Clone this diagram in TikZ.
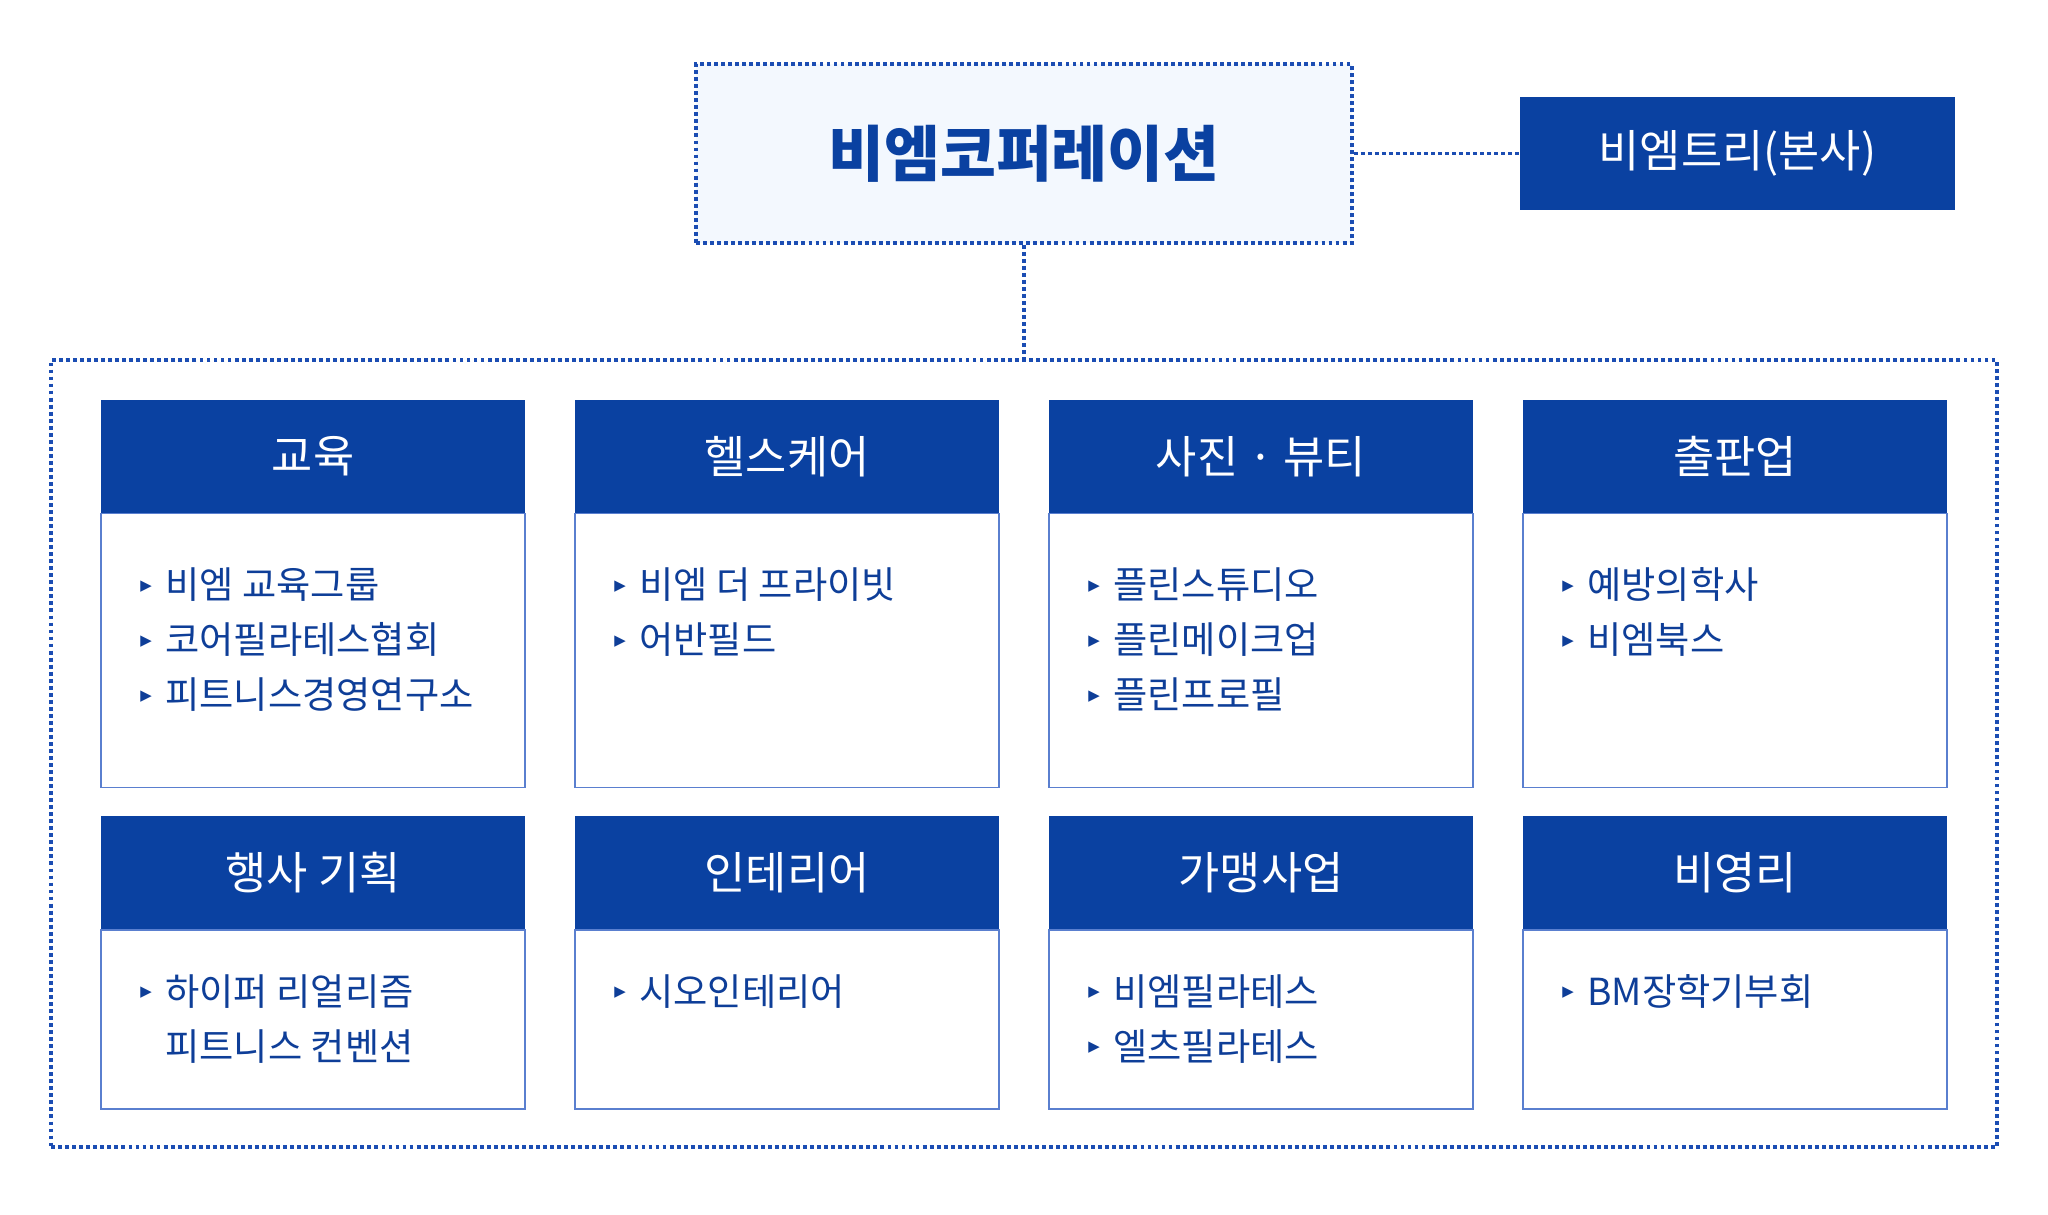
\documentclass[tikz,border=0pt]{standalone}
\usepackage{fontspec}
\setmainfont{Noto Sans CJK KR}
\newfontfamily\symfont{DejaVu Sans}
\usepackage{tikz}
\usetikzlibrary{positioning}
\definecolor{brand}{HTML}{0A41A1}
\definecolor{ink}{HTML}{0E3E98}
\definecolor{frame}{HTML}{5A7FCF}
\definecolor{dots}{HTML}{1B4DB3}
\definecolor{pale}{HTML}{F3F8FE}
\newcommand{\bul}{\rule{0pt}{22pt}\makebox[14.2pt][l]{\raisebox{4.9pt}{\symfont\fontsize{8.5}{8.5}\selectfont ▶}}}
\newcommand{\cont}{\hspace*{14.2pt}}

\begin{document}
\begin{tikzpicture}[x=0.02cm, y=-0.02cm,
  link/.style={draw=dots, line width=2pt, dash pattern=on 2.2pt off 1.8pt},
  hd/.style={fill=brand, minimum width=8.48cm, minimum height=2.28cm,
             inner sep=0pt, outer sep=0pt, text=white,
             font=\fontsize{25.5}{30}\selectfont},
  bx/.style={draw=frame, line width=0.9pt, fill=white, minimum width=8.48cm,
             inner sep=0pt, outer sep=0pt},
  lst/.style={anchor=north west, align=left, inner sep=0pt, text=ink,
              font=\fontsize{21.2}{31.3}\selectfont}
]
  \useasboundingbox (0,0) rectangle (2048,1214);

  % top level
  \node[link, fill=pale, minimum width=13.12cm, minimum height=3.58cm,
        text=brand, font=\fontsize{34.6}{40}\selectfont\bfseries]
        (corp) at (1024,153.5) {비엠코퍼레이션};
  \node[fill=brand, minimum width=8.7cm, minimum height=2.28cm, text=white,
        font=\fontsize{25.5}{30}\selectfont]
        (hq) at (1737.5,153.5) {비엠트리(본사)};
  \node[link, minimum width=38.92cm, minimum height=15.74cm]
        (grp) at (1024,753.5) {};

  \draw[link] (corp.east)  -- (hq.west);
  \draw[link] (corp.south) -- (grp.north);

  % first row
  \node[hd] (h1) at (313,456.5)  {교육};
  \node[hd] (h2) at (787,456.5)  {헬스케어};
  \node[hd] (h3) at (1261,456.5) {사진 · 뷰티};
  \node[hd] (h4) at (1735,456.5) {출판업};

  \node[bx, minimum height=5.48cm, below=0pt of h1] (b1) {};
  \node[bx, minimum height=5.48cm, below=0pt of h2] (b2) {};
  \node[bx, minimum height=5.48cm, below=0pt of h3] (b3) {};
  \node[bx, minimum height=5.48cm, below=0pt of h4] (b4) {};

  \node[lst] (l1) at ([shift={(39,46.3)}]b1.north west)
        {\bul 비엠 교육그룹\\ \bul 코어필라테스협회\\ \bul 피트니스경영연구소};
  \node[lst] (l2) at ([shift={(39,46.3)}]b2.north west)
        {\bul 비엠 더 프라이빗\\ \bul 어반필드};
  \node[lst] (l3) at ([shift={(39,46.3)}]b3.north west)
        {\bul 플린스튜디오\\ \bul 플린메이크업\\ \bul 플린프로필};
  \node[lst] (l4) at ([shift={(39,46.3)}]b4.north west)
        {\bul 예방의학사\\ \bul 비엠북스};

  % second row
  \node[hd] (h5) at (313,873)  {행사 기획};
  \node[hd] (h6) at (787,873)  {인테리어};
  \node[hd] (h7) at (1261,873) {가맹사업};
  \node[hd] (h8) at (1735,873) {비영리};

  \node[bx, minimum height=3.58cm, below=0pt of h5] (b5) {};
  \node[bx, minimum height=3.58cm, below=0pt of h6] (b6) {};
  \node[bx, minimum height=3.58cm, below=0pt of h7] (b7) {};
  \node[bx, minimum height=3.58cm, below=0pt of h8] (b8) {};

  \node[lst] (l5) at ([shift={(39,36.3)}]b5.north west)
        {\bul 하이퍼 리얼리즘\\ \cont 피트니스 컨벤션};
  \node[lst] (l6) at ([shift={(39,36.3)}]b6.north west)
        {\bul 시오인테리어};
  \node[lst] (l7) at ([shift={(39,36.3)}]b7.north west)
        {\bul 비엠필라테스\\ \bul 엘츠필라테스};
  \node[lst] (l8) at ([shift={(39,36.3)}]b8.north west)
        {\bul BM장학기부회};
\end{tikzpicture}
\end{document}
